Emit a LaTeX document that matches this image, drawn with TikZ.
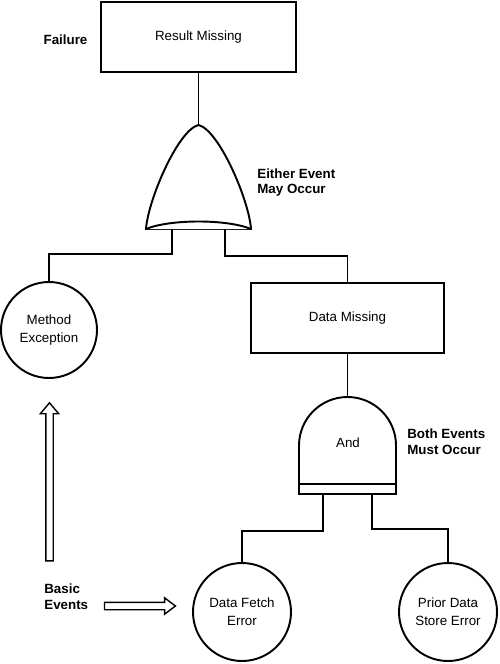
\documentclass[tikz,border=0pt]{standalone}
\usepackage{fontspec}
\setmainfont{Liberation Sans}
\usetikzlibrary{shapes,arrows,positioning,calc}

\begin{document}
\begin{tikzpicture}[
    event/.style={rectangle, draw, line width=1.1pt, minimum width=3.9cm, minimum height=1.4cm, font=\fontsize{7.6pt}{9pt}\selectfont},
    basic/.style={circle, draw, line width=1.1pt, minimum size=1.96cm, inner sep=0pt, align=center, font=\fontsize{7.6pt}{10pt}\selectfont},
    gate/.style={draw, line width=1.1pt, fill=white},
    note/.style={anchor=west, inner sep=0pt, align=left, font=\fontsize{7.6pt}{8.8pt}\selectfont\bfseries},
    wire/.style={line width=1.1pt},
    hollow/.style={single arrow, draw, line width=0.8pt, inner sep=0.06cm, single arrow head indent=0pt}
]

\useasboundingbox (0,0) rectangle (10,-13.28);

% Top event
\node[event] (result) at (3.97,-0.74) {Result Missing};
\node[note, anchor=center] (failure) at (1.31,-0.80) {Failure};

% OR gate
\coordinate (orTop) at (3.97,-2.5);
\coordinate (orL) at (2.92,-4.58);
\coordinate (orR) at (5.02,-4.58);
\coordinate (orIn1) at (3.44,-4.58);
\coordinate (orIn2) at (4.5,-4.58);
\draw[gate] (orL) .. controls (2.96,-4.0) and (3.56,-2.6) .. (orTop) .. controls (4.38,-2.6) and (4.98,-4.0) .. (orR) -- cycle;
\draw[gate] (orL) .. controls (3.4,-4.38) and (4.54,-4.38) .. (orR);
\node[note] (either) at (5.14,-3.65) {Either Event\\May Occur};

\draw[wire] (result.south) -- (orTop);

% Second level
\node[basic, minimum size=1.92cm] (method) at (0.98,-6.6) {Method\\Exception};
\node[event, minimum width=3.86cm] (datamiss) at (6.95,-6.36) {Data Missing};

\draw[wire] (orIn1) -- ++(0,-0.5) -| (method.north);
\draw[wire] (orIn2) -- ++(0,-0.54) -| (datamiss.north);

% AND gate
\coordinate (andTop) at (6.95,-7.94);
\coordinate (andIn1) at (6.46,-9.88);
\coordinate (andIn2) at (7.44,-9.88);
\draw[gate] (5.98,-9.88) -- (5.98,-8.91) arc[start angle=180, end angle=0, radius=0.97] -- (7.92,-9.88) -- cycle;
\draw[gate] (5.98,-9.68) -- (7.92,-9.68);
\node[font=\fontsize{7.6pt}{9pt}\selectfont] (and) at (6.96,-8.86) {And};
\node[note] (both) at (8.14,-8.83) {Both Events\\Must Occur};

\draw[wire] (datamiss.south) -- (andTop);

% Basic events
\node[basic] (fetch) at (4.84,-12.24) {Data Fetch\\Error};
\node[basic] (prior) at (8.96,-12.24) {Prior Data\\Store Error};

\draw[wire] (andIn1) -- ++(0,-0.74) -| (fetch.north);
\draw[wire] (andIn2) -- ++(0,-0.70) -| (prior.north);

% Legend arrows
\node[note] (basicev) at (0.88,-11.93) {Basic\\Events};
\node[hollow, rotate=90, minimum height=3.16cm, single arrow head extend=0.11cm, single arrow tip angle=80] (upArrow) at (0.99,-9.68) {};
\node[hollow, minimum height=1.42cm, single arrow head extend=0.09cm, single arrow tip angle=74] (rightArrow) at (2.75,-12.12) {};

\end{tikzpicture}
\end{document}
